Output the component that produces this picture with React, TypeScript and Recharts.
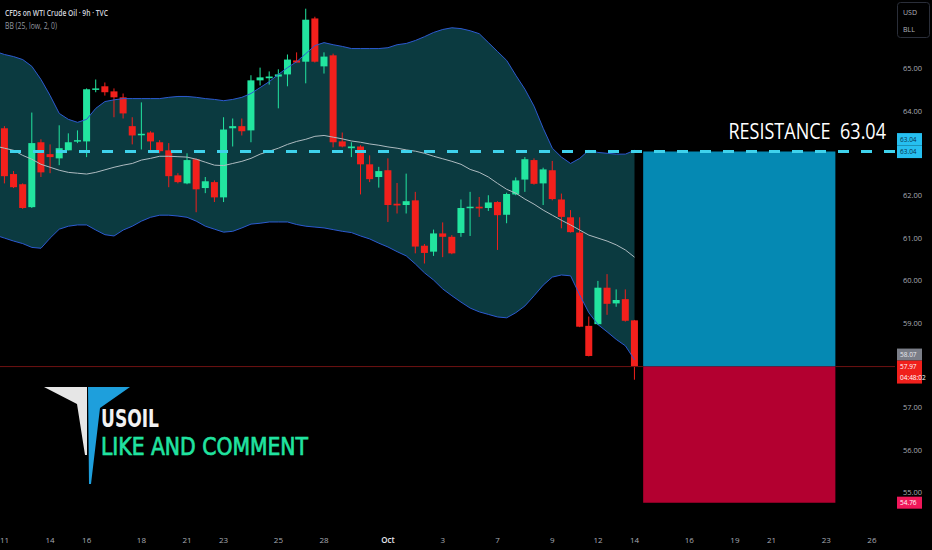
import {
  Area,
  Bar,
  ComposedChart,
  Line,
  ReferenceArea,
  ReferenceLine,
  XAxis,
  YAxis,
} from "recharts";

// 9h candles of WTI crude oil, index 0 = Sep 11
const OPEN = [
  63.59, 62.51, 62.27, 61.73, 63.26, 62.98, 62.88, 63.07, 63.28, 63.28,
  64.5, 64.58, 64.46, 64.32, 63.64, 63.44, 63.49, 63.26, 63.07, 62.48,
  62.29, 62.86, 62.18, 62.32, 61.96, 63.59, 63.64, 63.54, 64.72, 64.77,
  64.81, 64.86, 65.19, 65.16, 66.18, 65.05, 65.31, 63.28, 63.12, 63.16,
  62.74, 62.44, 62.6, 61.81, 61.78, 61.89, 60.82, 60.68, 61.11, 61.03,
  61.12, 61.71, 61.74, 61.71, 61.85, 61.55, 62.03, 62.38, 62.84, 62.29,
  62.6, 61.91, 61.49, 61.13, 58.93, 58.97, 59.83, 59.46, 59.56, 59.06,
];
const HIGH = [
  63.64, 62.58, 62.29, 63.96, 63.33, 63.21, 63.66, 63.47, 63.54, 64.53,
  64.74, 64.67, 64.53, 64.41, 63.85, 64.2, 63.52, 63.31, 63.24, 62.53,
  63.0, 62.88, 62.44, 62.36, 63.85, 63.82, 63.82, 64.84, 65.02, 64.93,
  64.98, 65.33, 65.38, 66.41, 66.22, 65.38, 65.35, 63.49, 63.26, 63.19,
  62.95, 62.68, 62.88, 62.3, 62.52, 62.09, 60.86, 61.2, 61.37, 61.07,
  61.91, 62.09, 61.97, 62.01, 61.87, 62.07, 62.43, 62.91, 62.88, 62.66,
  62.82, 62.05, 61.66, 61.49, 59.15, 59.99, 60.15, 59.79, 59.79, 59.07,
];
const LOW = [
  62.29, 62.18, 61.69, 61.71, 62.44, 62.53, 62.72, 63.07, 63.24, 62.91,
  64.44, 64.36, 63.85, 63.82, 63.21, 63.09, 63.05, 63.0, 62.2, 62.29,
  62.27, 61.61, 62.06, 61.85, 61.85, 63.16, 63.42, 63.26, 64.6, 64.62,
  64.06, 64.58, 65.14, 64.65, 65.14, 64.88, 63.14, 63.14, 62.91, 62.03,
  62.32, 62.19, 61.38, 61.58, 61.58, 60.64, 60.4, 60.58, 60.55, 60.62,
  61.03, 61.05, 61.5, 61.64, 60.72, 61.35, 62.01, 62.09, 62.26, 61.78,
  61.89, 61.23, 61.13, 58.9, 58.21, 58.95, 59.19, 59.38, 59.03, 57.66,
];
const CLOSE = [
  62.46, 62.2, 61.71, 63.24, 62.55, 62.91, 63.12, 63.26, 63.31, 64.51,
  64.53, 64.44, 64.32, 63.94, 63.42, 63.46, 63.28, 63.05, 62.46, 62.32,
  62.84, 62.15, 62.34, 61.96, 63.56, 63.64, 63.52, 64.72, 64.79, 64.81,
  64.86, 65.21, 65.14, 66.15, 65.16, 65.28, 63.26, 63.16, 63.16, 62.74,
  62.39, 62.58, 61.78, 61.77, 61.87, 60.8, 60.65, 61.11, 61.03, 60.64,
  61.71, 61.74, 61.7, 61.84, 61.54, 62.04, 62.36, 62.86, 62.28, 62.62,
  61.92, 61.5, 61.14, 58.91, 58.22, 59.83, 59.45, 59.54, 59.05, 57.97,
];

// Bollinger bands (25, low, 2), first value is one bar before index 0
const BB_START = -1;
const BB_UPPER = [
  65.4, 65.33, 65.28, 65.21, 65.05, 64.74, 64.36, 63.94, 63.8, 63.73,
  63.8, 64.06, 64.22, 64.26, 64.29, 64.29, 64.29, 64.29, 64.29, 64.32,
  64.34, 64.34, 64.32, 64.29, 64.27, 64.24, 64.27, 64.32, 64.41, 64.55,
  64.69, 64.86, 65.02, 65.16, 65.35, 65.54, 65.61, 65.56, 65.52, 65.47,
  65.47, 65.47, 65.47, 65.49, 65.56, 65.59, 65.66, 65.75, 65.85, 65.92,
  65.96, 65.94, 65.89, 65.82, 65.61, 65.4, 65.19, 64.84, 64.51, 64.11,
  63.59, 63.12, 62.91, 62.76, 62.88, 63.07, 63.02, 63.0, 62.98, 62.98,
  63.07,
];
const BB_BASIS = [
  63.17, 63.12, 63.07, 62.95, 62.86, 62.74, 62.67, 62.6, 62.55, 62.53,
  62.51, 62.55, 62.61, 62.67, 62.72, 62.76, 62.84, 62.88, 62.93, 62.93,
  62.92, 62.91, 62.86, 62.79, 62.72, 62.71, 62.76, 62.81, 62.88, 62.98,
  63.05, 63.12, 63.21, 63.28, 63.33, 63.4, 63.42, 63.38, 63.34, 63.29,
  63.26, 63.22, 63.19, 63.15, 63.12, 63.08, 63.05, 63.0, 62.93, 62.87,
  62.81, 62.74, 62.62, 62.55, 62.44, 62.29, 62.15, 62.06, 61.92, 61.8,
  61.66, 61.54, 61.42, 61.31, 61.19, 61.07, 61.0, 60.93, 60.84, 60.72,
  60.55,
];
const BB_LOWER = [
  61.07, 61.0, 60.93, 60.87, 60.78, 60.76, 61.0, 61.21, 61.28, 61.31,
  61.31, 61.19, 61.08, 61.05, 61.19, 61.28, 61.4, 61.49, 61.54, 61.54,
  61.52, 61.49, 61.4, 61.28, 61.21, 61.14, 61.16, 61.24, 61.33, 61.35,
  61.38, 61.38, 61.38, 61.32, 61.28, 61.26, 61.24, 61.2, 61.16, 61.13,
  61.05, 60.98, 60.88, 60.79, 60.68, 60.58, 60.39, 60.18, 60.01, 59.8,
  59.64, 59.49, 59.35, 59.26, 59.2, 59.14, 59.12, 59.24, 59.4, 59.64,
  59.89, 60.08, 60.13, 60.11, 59.66, 59.24, 58.96, 58.79, 58.61, 58.46,
  58.13,
];

const DATE_TICKS = [0, 5, 9, 15, 20, 24, 30, 35, 42, 48, 54, 60, 65, 69, 75, 80, 84, 90, 95];
const DATE_LABELS = ["11", "14", "16", "18", "21", "23", "25", "28", "Oct", "3", "7", "9", "12", "14", "16", "19", "21", "23", "26"];
const PRICE_TICKS = [55, 56, 57, 59, 60, 61, 62, 64, 65];

const RESISTANCE = 63.04;
const LAST_PRICE = 57.97;
const PREV_CLOSE = 58.07;
const STOP = 54.76;
const COUNTDOWN = "04:48:02";
const POSITION_FROM = 69.95;
const POSITION_TO = 91.0;

const X_DOMAIN: [number, number] = [-0.49, 97.53];
const Y_DOMAIN: [number, number] = [54.21, 66.615];

const GREEN = "#22e59f";
const RED = "#f2201c";
const FONT = "'Open Sans', 'Noto Sans', sans-serif";
const NARROW = "'Liberation Sans Narrow', 'DejaVu Sans Condensed', 'Open Sans', sans-serif";

const data: any[] = [];
for (let i = BB_START; i < OPEN.length; i++) {
  const row: any = { i };
  if (i >= 0) {
    row.o = OPEN[i];
    row.h = HIGH[i];
    row.l = LOW[i];
    row.c = CLOSE[i];
    row.range = [LOW[i], HIGH[i]];
  }
  const b = i - BB_START;
  row.upper = BB_UPPER[b];
  row.basis = BB_BASIS[b];
  row.lower = BB_LOWER[b];
  row.band = [BB_LOWER[b], BB_UPPER[b]];
  data.push(row);
}

function Candle(props: any) {
  const { x, width, payload } = props;
  let { y, height } = props;
  if (!payload || payload.o == null) return null;
  if (height < 0) {
    y += height;
    height = -height;
  }
  const { o, h, l, c } = payload;
  const k = h === l ? 0 : height / (h - l);
  const color = c >= o ? GREEN : RED;
  const top = y + (h - Math.max(o, c)) * k;
  const bottom = y + (h - Math.min(o, c)) * k;
  const cx = x + width / 2;
  return (
    <g>
      <line x1={cx} x2={cx} y1={y} y2={y + height} stroke={color} strokeWidth={1} />
      <rect x={x} y={top} width={width} height={Math.max(bottom - top, 1.5)} fill={color} />
    </g>
  );
}

function DateTick(props: any) {
  const { x, y, payload } = props;
  const label = DATE_LABELS[DATE_TICKS.indexOf(payload.value)];
  const month = label === "Oct";
  return (
    <text
      x={x}
      y={y + 9}
      textAnchor="middle"
      fill={month ? "#e6e8ee" : "#a9acb5"}
      fontSize={8}
      fontWeight={month ? 600 : 400}
      fontFamily={FONT}
    >
      {label}
    </text>
  );
}

function PriceBox({ x, cy, h, fill, color, lines }: any) {
  return (
    <g>
      <rect x={x} y={cy - 6} width={25} height={h} fill={fill} />
      {lines.map((t: string, n: number) => (
        <text
          key={n}
          x={x + 3}
          y={cy + 2.5 + n * 11}
          fill={color}
          fontSize={6.5}
          fontFamily={FONT}
        >
          {t}
        </text>
      ))}
    </g>
  );
}

function ResistanceLabel(props: any) {
  const { viewBox } = props;
  if (!viewBox) return null;
  const right = viewBox.x + viewBox.width;
  const y = viewBox.y;
  return (
    <g>
      <text
        x={0}
        y={0}
        transform={`translate(${right - 9}, ${y - 13}) scale(0.82, 1)`}
        textAnchor="end"
        fill="#ffffff"
        fontSize={22}
        fontFamily={FONT}
      >
        {"RESISTANCE\u00a0\u00a0" + RESISTANCE.toFixed(2)}
      </text>
      <PriceBox x={right + 2} cy={y - 12.5} h={12.5} fill="#26bff0" color="#06304a" lines={[RESISTANCE.toFixed(2)]} />
      <PriceBox x={right + 2} cy={y} h={12.5} fill="#26bff0" color="#06304a" lines={[RESISTANCE.toFixed(2)]} />
    </g>
  );
}

function LastPriceLabel(props: any) {
  const { viewBox } = props;
  if (!viewBox) return null;
  const right = viewBox.x + viewBox.width;
  const y = viewBox.y;
  return (
    <g>
      <PriceBox x={right + 2} cy={y - 12} h={12} fill="#7b7e88" color="#e8e8ec" lines={[PREV_CLOSE.toFixed(2)]} />
      <PriceBox x={right + 2} cy={y} h={23} fill="#f0201c" color="#ffffff" lines={[LAST_PRICE.toFixed(2), COUNTDOWN]} />
    </g>
  );
}

function StopLabel(props: any) {
  const { viewBox } = props;
  if (!viewBox) return null;
  const right = viewBox.x + viewBox.width;
  return <PriceBox x={right + 2} cy={viewBox.y} h={12} fill="#f0175a" color="#ffffff" lines={[STOP.toFixed(2)]} />;
}

function Overlay() {
  return (
    <svg
      width={932}
      height={550}
      style={{ position: "absolute", left: 0, top: 0, pointerEvents: "none" }}
      fontFamily={FONT}
    >
      <text x={5} y={16} fill="#d1d4dc" fontSize={9} fontWeight={600} textLength={103} lengthAdjust="spacingAndGlyphs">
        CFDs on WTI Crude Oil · 9h · TVC
      </text>
      <text x={5} y={29} fill="#9598a1" fontSize={9} textLength={52} lengthAdjust="spacingAndGlyphs">
        BB (25, low, 2, 0)
      </text>
      <rect x={897.5} y={2.5} width={32} height={35} rx={3} fill="none" stroke="#2a2e39" />
      <text x={903} y={15} fill="#b2b5be" fontSize={7}>USD</text>
      <text x={903} y={32} fill="#b2b5be" fontSize={7}>BLL</text>

      <polygon points="44,387 87,387 87,455 85,455 77,404" fill="#e6e6e6" />
      <polygon points="88,387 130,387 100,408 91,484 89,484" fill="#1e9fdc" />
      <text
        x={101}
        y={426.5}
        fill="#f2f2f2"
        fontSize={24}
        fontWeight={700}
        fontFamily={NARROW}
        textLength={58}
        lengthAdjust="spacingAndGlyphs"
      >
        USOIL
      </text>
      <text
        x={101}
        y={455}
        fill="#20e3a0"
        stroke="#20e3a0"
        strokeWidth={0.7}
        fontSize={25.5}
        fontWeight={400}
        fontFamily={NARROW}
        textLength={207}
        lengthAdjust="spacingAndGlyphs"
      >
        LIKE AND COMMENT
      </text>
    </svg>
  );
}

export default function App() {
  return (
    <div style={{ position: "absolute", left: 0, top: 0, width: 932, height: 550, background: "#000" }}>
      <ComposedChart width={932} height={550} data={data} margin={{ top: 0, right: 0, bottom: 0, left: 0 }}>
        <XAxis
          dataKey="i"
          type="number"
          domain={X_DOMAIN}
          allowDataOverflow
          ticks={DATE_TICKS}
          interval={0}
          axisLine={false}
          tickLine={false}
          height={24}
          tick={<DateTick />}
        />
        <YAxis
          orientation="right"
          type="number"
          domain={Y_DOMAIN}
          allowDataOverflow
          ticks={PRICE_TICKS}
          interval={0}
          width={37}
          axisLine={false}
          tickLine={false}
          tickFormatter={(v: number) => v.toFixed(2)}
          tick={{ fill: "#a9acb5", fontSize: 7.5, fontFamily: FONT }}
        />
        <Area
          dataKey="band"
          type="linear"
          fill="#0b3a40"
          fillOpacity={1}
          stroke="none"
          dot={false}
          activeDot={false}
          isAnimationActive={false}
        />
        <Line dataKey="upper" type="linear" stroke="#2c5ad0" strokeWidth={1} dot={false} activeDot={false} isAnimationActive={false} />
        <Line dataKey="lower" type="linear" stroke="#2c5ad0" strokeWidth={1} dot={false} activeDot={false} isAnimationActive={false} />
        <Line dataKey="basis" type="linear" stroke="#aebbc0" strokeWidth={1} dot={false} activeDot={false} isAnimationActive={false} />
        <Bar dataKey="range" barSize={7} shape={<Candle />} activeBar={false} isAnimationActive={false} />
        <ReferenceLine
          segment={[{ x: X_DOMAIN[0], y: LAST_PRICE }, { x: POSITION_FROM, y: LAST_PRICE }]}
          stroke="#6e1212"
          strokeWidth={1}
        />
        <ReferenceLine
          segment={[{ x: POSITION_TO, y: LAST_PRICE }, { x: X_DOMAIN[1], y: LAST_PRICE }]}
          stroke="#6e1212"
          strokeWidth={1}
        />
        <ReferenceArea
          x1={POSITION_FROM}
          x2={POSITION_TO}
          y1={LAST_PRICE}
          y2={RESISTANCE}
          fill="#0589b3"
          fillOpacity={1}
          stroke="none"
        />
        <ReferenceArea
          x1={POSITION_FROM}
          x2={POSITION_TO}
          y1={STOP}
          y2={LAST_PRICE}
          fill="#b30030"
          fillOpacity={1}
          stroke="none"
        />
        <ReferenceLine y={LAST_PRICE} stroke="none" label={<LastPriceLabel />} />
        <ReferenceLine y={STOP} stroke="none" label={<StopLabel />} />
        <ReferenceLine
          y={RESISTANCE}
          stroke="#3fd2ec"
          strokeWidth={3}
          strokeDasharray="11 12"
          label={<ResistanceLabel />}
        />
      </ComposedChart>
      <Overlay />
    </div>
  );
}
